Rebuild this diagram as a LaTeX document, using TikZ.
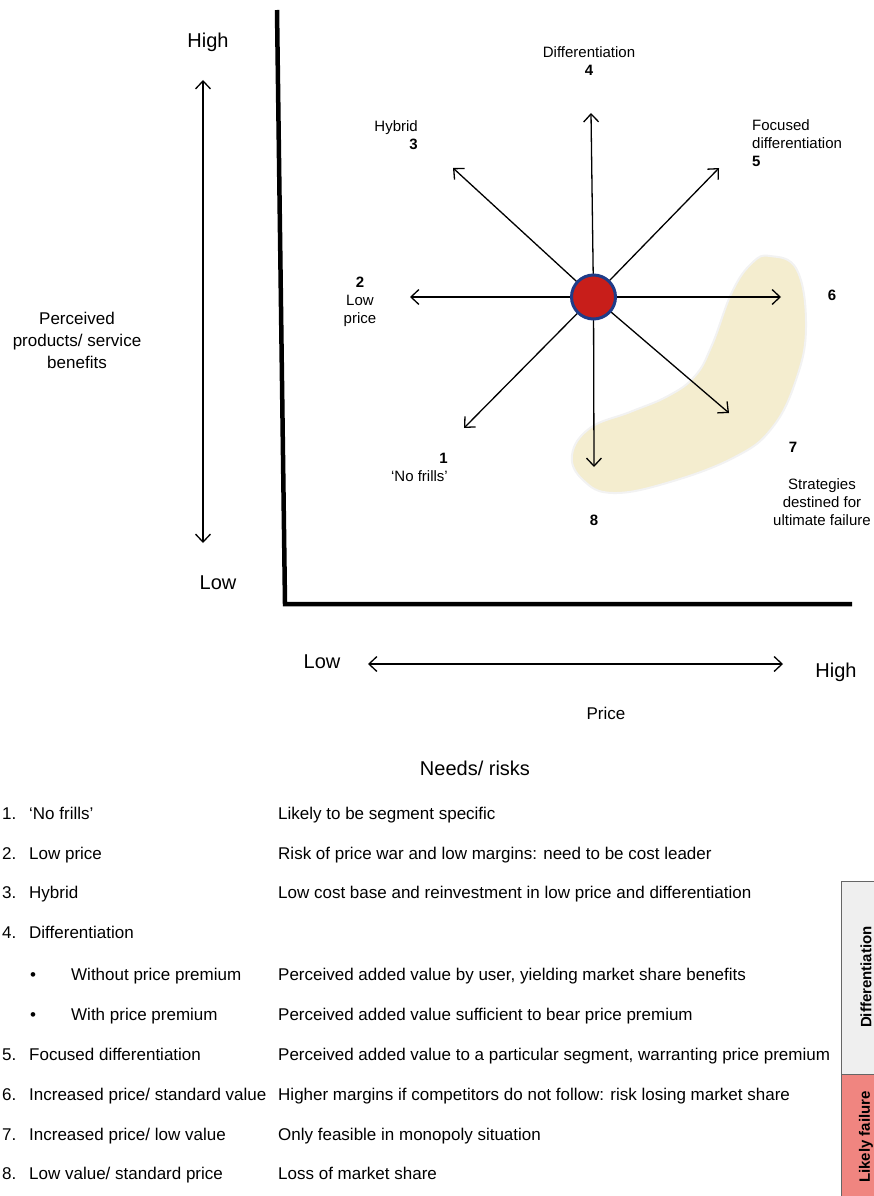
\documentclass[tikz,border=0pt]{standalone}
\usepackage{fontspec}
\setmainfont{Liberation Sans}
\usetikzlibrary{arrows.meta,positioning}
\definecolor{blobfill}{HTML}{F4EDCF}
\definecolor{dotred}{HTML}{C81E1A}
\definecolor{dotblue}{HTML}{1F3C88}
\definecolor{failpink}{HTML}{F08580}
\definecolor{diffgray}{HTML}{EFEFEF}

\begin{document}
\begin{tikzpicture}[
    x=1pt, y=-1pt,
    lbl/.style={font=\fontsize{15}{18}\selectfont, inner sep=0pt},
    num/.style={font=\fontsize{15}{18}\selectfont\bfseries, inner sep=0pt},
    big/.style={font=\fontsize{20}{24}\selectfont, inner sep=0pt},
    axlbl/.style={font=\fontsize{17}{22}\selectfont, inner sep=0pt, align=center},
    txt/.style={font=\fontsize{17}{20}\selectfont, anchor=base west, inner sep=0pt},
    side/.style={font=\fontsize{15}{18}\selectfont\bfseries, rotate=90, inner sep=0pt},
    spoke/.style={-{Straight Barb[length=8pt,width=15pt]}, line width=1.3pt},
    dbl/.style={{Straight Barb[length=8pt,width=15pt]}-{Straight Barb[length=8pt,width=15pt]}, line width=1.3pt}
  ]
  \useasboundingbox (0,0) rectangle (873,1196);

  %% ---- Axes ----
  \draw[line width=4.5pt] (277,10) -- (285,604) -- (852,604);

  \node[big] (yhigh) at (208,42) {High};
  \node[big] (ylow) at (218,583) {Low};
  \coordinate (ytop) at (203,80);
  \coordinate (ybot) at (203,543);
  \draw[dbl] (ybot) -- (ytop);
  \node[axlbl] (benefit) at (77,340) {Perceived\\products/ service\\benefits};

  \node[big] (xlow) at (322,662) {Low};
  \node[big] (xhigh) at (836,672) {High};
  \coordinate (xleft) at (368,664);
  \coordinate (xright) at (783,664);
  \draw[dbl] (xleft) -- (xright);
  \node[axlbl] (price) at (606,713) {Price};

  %% ---- Failure zone ----
  \fill[blobfill, draw=black!5, line width=2pt] plot[smooth cycle, tension=0.7] coordinates {
    (770,256) (797,270) (806,327) (796,380) (772,428) (735,457)
    (670,482) (613,493) (583,480) (572,455) (590,428) (630,412)
    (668,396) (695,376) (712,345) (732,292) (752,263)};

  %% ---- Strategy clock ----
  \coordinate (t1) at (464,428);
  \coordinate (t2) at (410,297);
  \coordinate (t3) at (453,168);
  \coordinate (t4) at (591,113);
  \coordinate (t5) at (719,168);
  \coordinate (t6) at (781,297);
  \coordinate (t7) at (729,413);
  \coordinate (t8) at (594,467);

  \foreach \tip in {t1,t2,t3,t4,t5,t6,t7,t8}{
    \draw[spoke] (593.5,297) -- (\tip);
  }
  \node[circle, fill=dotred, draw=dotblue, line width=3pt, minimum size=44pt, inner sep=0pt] (ctr) at (593.5,297) {};

  %% Route labels
  \node[lbl, align=center] (l4) at (589,61) {Differentiation\\\textbf{4}};
  \node[lbl, align=right, anchor=east] (l3) at (418,135) {Hybrid\\\textbf{3}};
  \node[lbl, align=left, anchor=west] (l5) at (752,143) {Focused\\differentiation\\\textbf{5}};
  \node[lbl, align=center] (l2) at (360,302) {\textbf{2}\\Low\\price};
  \node[num] (l6) at (832,295) {6};
  \node[lbl, align=right, anchor=east] (l1) at (448,467) {\textbf{1}\\‘No frills’};
  \node[num] (l7) at (793,447) {7};
  \node[lbl, align=center] (fail) at (822,502) {Strategies\\destined for\\ultimate failure};
  \node[num] (l8) at (594,520) {8};

  %% ---- Needs/ risks table ----
  \node[big] (needs) at (475,768) {Needs/ risks};

  \foreach \n/\y/\item/\need in {
      1/819/{‘No frills’}/{Likely to be segment specific},
      2/859/{Low price}/{Risk of price war and low margins: need to be cost leader},
      3/898/{Hybrid}/{Low cost base and reinvestment in low price and differentiation},
      4/938/{Differentiation}/{},
      5/1060/{Focused differentiation}/{Perceived added value to a particular segment, warranting price premium},
      6/1100/{Increased price/ standard value}/{Higher margins if competitors do not follow: risk losing market share},
      7/1140/{Increased price/ low value}/{Only feasible in monopoly situation},
      8/1179/{Low value/ standard price}/{Loss of market share}}{
    \node[txt] (num\n) at (2,\y) {\n.};
    \node[txt] (item\n) at (29,\y) {\item};
    \node[txt] (need\n) at (278,\y) {\need};
  }

  \foreach \b/\y/\item/\need in {
      a/980/{Without price premium}/{Perceived added value by user, yielding market share benefits},
      b/1020/{With price premium}/{Perceived added value sufficient to bear price premium}}{
    \node[txt] (bul\b) at (30,\y) {\textbullet};
    \node[txt] (sub\b) at (71,\y) {\item};
    \node[txt] (subneed\b) at (278,\y) {\need};
  }

  %% Side bands
  \draw[draw=black!60, fill=diffgray, line width=1pt] (841,881) rectangle (878,1074);
  \draw[draw=black!60, fill=failpink, line width=1pt] (841,1074) rectangle (878,1200);
  \node[side] (sdiff) at (866,977) {Differentiation};
  \node[side] (sfail) at (866,1137) {Likely failure};

\end{tikzpicture}
\end{document}
